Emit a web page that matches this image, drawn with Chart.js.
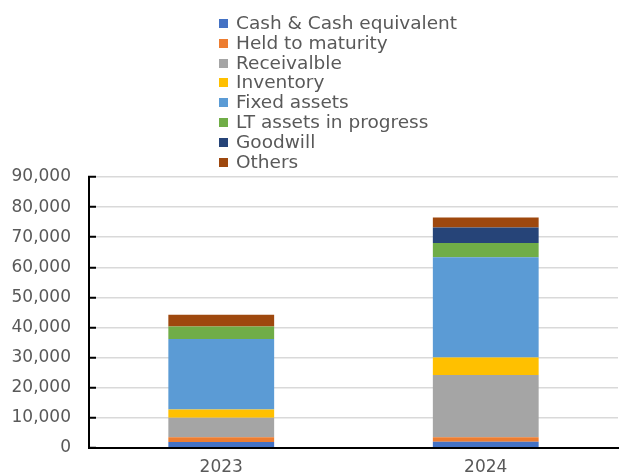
<!DOCTYPE html>
<html>
<head>
<meta charset="utf-8">
<script src="https://cdn.jsdelivr.net/npm/chart.js@4"></script>
<style>
    html, body { margin: 0; padding: 0; background: #fff; overflow: hidden; }
    #wrap { position: relative; width: 620px; height: 475px; overflow: hidden; }
    #chart { position: absolute; left: 0; top: 0; }
    #legend {
        position: absolute; left: 219px; top: 12.6px;
        font-family: "DejaVu Sans", sans-serif; font-size: 18.5px; color: #595959;
    }
    .item { height: 19.8px; display: flex; align-items: center; white-space: nowrap; }
    .box { width: 9px; height: 9px; margin-right: 8px; margin-top: 2px; flex: none; }
</style>
</head>
<body>
<div id="wrap">
    <!-- canvas a bit taller than the window: chart.js keeps ~7px under the x axis -->
    <canvas id="chart" width="620" height="483"></canvas>
    <div id="legend"></div>
</div>
<script>
const years = ['2023', '2024'];
const seriesNames = ['Cash & Cash equivalent', 'Held to maturity', 'Receivalble', 'Inventory',
    'Fixed assets', 'LT assets in progress', 'Goodwill', 'Others'];
const cash = [1900, 2000];
const heldToMaturity = [1600, 1500];
const receivable = [6450, 20700];
const inventory = [2800, 5800];
const fixedAssets = [23450, 33300];
const ltInProgress = [4100, 4800];
const goodwill = [0, 5100];
const others = [3900, 3300];
const yTicks = [0, 10000, 20000, 30000, 40000, 50000, 60000, 70000, 80000, 90000];

const seriesValues = [cash, heldToMaturity, receivable, inventory, fixedAssets, ltInProgress, goodwill, others];
const colors = ['#4472C4', '#ED7D31', '#A5A5A5', '#FFC000', '#5B9BD5', '#70AD47', '#264478', '#9E480E'];

const datasets = seriesNames.map((name, i) => ({
    label: name,
    data: seriesValues[i],
    backgroundColor: colors[i],
    borderWidth: 0,
    categoryPercentage: 1,
    barPercentage: 0.4
}));

// Legend (one item per row, like the original)
const legendEl = document.getElementById('legend');
seriesNames.forEach((name, i) => {
    const row = document.createElement('div');
    row.className = 'item';
    const box = document.createElement('span');
    box.className = 'box';
    box.style.background = colors[i];
    const txt = document.createElement('span');
    txt.textContent = name;
    row.appendChild(box);
    row.appendChild(txt);
    legendEl.appendChild(row);
});

const tickFont = { family: 'DejaVu Sans', size: 17 };

new Chart(document.getElementById('chart').getContext('2d'), {
    type: 'bar',
    data: { labels: years, datasets: datasets },
    options: {
        responsive: false,
        devicePixelRatio: 1,
        animation: false,
        layout: { padding: { top: 177, right: 2, left: 0, bottom: 0 } },
        plugins: { legend: { display: false }, tooltip: { enabled: false } },
        scales: {
            x: {
                stacked: true,
                grid: { display: false, drawTicks: false },
                border: { display: true, color: '#000', width: 2 },
                ticks: { color: '#595959', font: tickFont, padding: 10 },
                afterFit: (scale) => { scale.height = 28; }
            },
            y: {
                stacked: true,
                min: 0,
                max: 90000,
                afterBuildTicks: (scale) => { scale.ticks = yTicks.map(v => ({ value: v })); },
                // negative tickLength puts the small black tick marks inside the plot
                grid: { color: '#d9d9d9', lineWidth: 1.5, tickLength: -7, tickColor: '#000', tickWidth: 2 },
                border: { display: true, color: '#000', width: 2 },
                ticks: {
                    color: '#595959', font: tickFont, padding: 25,
                    callback: (v) => v.toLocaleString('en-US')
                },
                afterFit: (scale) => { scale.width = 89; }
            }
        }
    }
});
</script>
</body>
</html>
